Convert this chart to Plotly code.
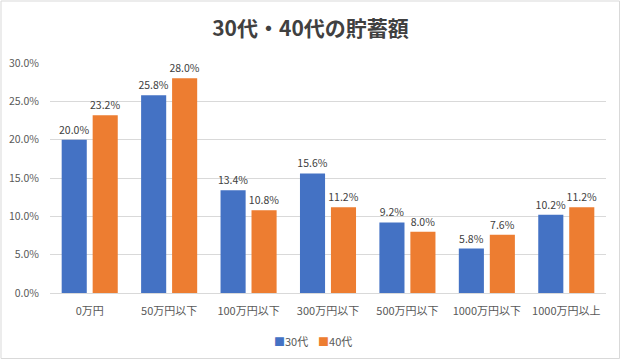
import plotly.graph_objects as go

categories = ["0万円", "50万円以下", "100万円以下", "300万円以下", "500万円以下", "1000万円以下", "1000万円以上"]
series_30 = [0.200, 0.258, 0.134, 0.156, 0.092, 0.058, 0.102]
series_40 = [0.232, 0.280, 0.108, 0.112, 0.080, 0.076, 0.112]
series_names = ["30代", "40代"]
series_colors = ["#4472C4", "#ED7D31"]
title_text = "30代・40代の貯蓄額"

FONT = "Noto Sans CJK JP, Noto Sans, sans-serif"
W, H = 621, 360
ML, MR, MT, MB = 50, 15, 63, 67
PW, PH = W - ML - MR, H - MT - MB

fig = go.Figure()
for name, vals, col in zip(series_names, [series_30, series_40], series_colors):
    fig.add_trace(go.Bar(
        x=categories, y=vals, name=name, showlegend=False,
        marker=dict(color=col, line=dict(width=0)),
        text=[f"{v*100:.1f}%" for v in vals],
        textposition="outside", cliponaxis=False, constraintext="none",
        textfont=dict(family=FONT, size=10.5, color="#404040"),
        hoverinfo="skip",
    ))

legend_text = "&nbsp;&nbsp;&nbsp;&nbsp;".join(
    f"<span style='color:{c}'>■</span>{n}" for n, c in zip(series_names, series_colors)
)

fig.update_layout(
    width=W, height=H,
    margin=dict(l=ML, r=MR, t=MT, b=MB, autoexpand=False),
    paper_bgcolor="white", plot_bgcolor="white",
    barmode="group", bargap=0.22, bargroupgap=0.19,
    font=dict(family=FONT, size=10.5, color="#595959"),
    title=dict(text=f"<b>{title_text}</b>", x=0.5, xanchor="center", y=1 - 29 / H, yanchor="middle",
               font=dict(family=FONT, size=21, color="#404040")),
    showlegend=False,
    annotations=[dict(text=legend_text, xref="paper", yref="paper",
                      x=(313 - ML) / PW, y=-(341 - (MT + PH)) / PH, xanchor="center", yanchor="middle",
                      showarrow=False, font=dict(family=FONT, size=11, color="#595959"))],
    xaxis=dict(showgrid=False, showline=True, linecolor="#D9D9D9", linewidth=1, ticks="", automargin=False,
               ticklabelstandoff=8,
               tickfont=dict(family=FONT, size=11, color="#595959")),
    yaxis=dict(range=[0, 0.30], dtick=0.05, tickformat=".1%", showgrid=True, gridcolor="#D9D9D9",
               gridwidth=1, zeroline=False, showline=False, ticks="", automargin=False,
               ticklabelstandoff=10,
               tickfont=dict(family=FONT, size=10.5, color="#595959")),
    shapes=[dict(type="rect", xref="paper", yref="paper",
                 x0=-(ML - 1) / PW, x1=1 + (MR - 1.5) / PW,
                 y0=-(MB - 1.5) / PH, y1=1 + (MT - 1) / PH,
                 line=dict(color="#D9D9D9", width=1), fillcolor="rgba(0,0,0,0)", layer="below")],
)

fig.write_html("out.html", config={"displayModeBar": False},
               post_script="document.body.style.margin='0';document.body.style.overflow='hidden';")
